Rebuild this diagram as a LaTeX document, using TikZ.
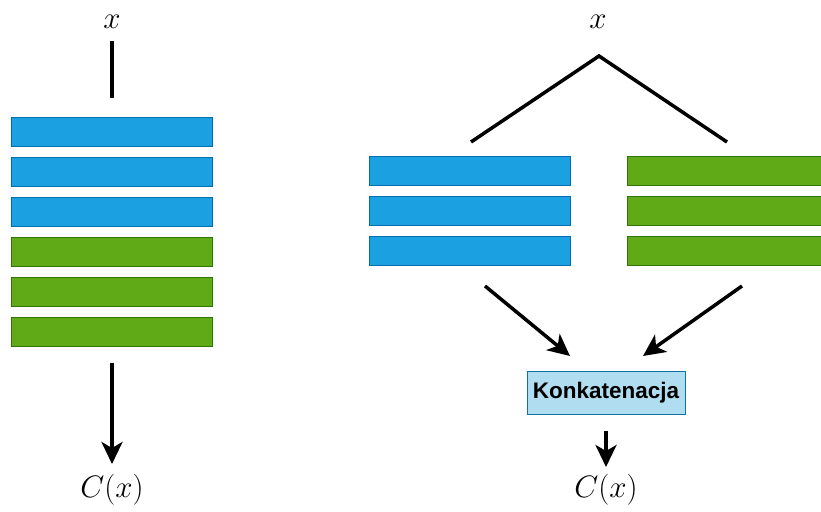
\RequirePackage{fix-cm}
\documentclass[tikz,border=0pt]{standalone}
\usepackage{amsmath}
\usepackage{fontspec}
\setsansfont{Liberation Sans}
\usepackage{xcolor}
\usepackage{tikz}
\usetikzlibrary{arrows.meta}

\definecolor{barblue}{HTML}{1BA1E2}
\definecolor{barblueline}{HTML}{006EAF}
\definecolor{bargreen}{HTML}{60A917}
\definecolor{bargreenline}{HTML}{2D7600}
\definecolor{concfill}{HTML}{B1DDF0}
\definecolor{concline}{HTML}{10739E}

\tikzset{
  bar/.style={minimum width=201pt, minimum height=29pt, inner sep=0pt, line width=1pt},
  bluebar/.style={bar, fill=barblue, draw=barblueline},
  greenbar/.style={bar, fill=bargreen, draw=bargreenline},
  lbl/.style={font=\fontsize{31}{37}\selectfont},
  concbox/.style={fill=concfill, draw=concline, line width=1pt, minimum width=158pt,
    minimum height=43pt, inner sep=0pt, font=\sffamily\bfseries\fontsize{22.5}{27}\selectfont},
  link/.style={line width=3.5pt},
  arr/.style={link, -{Stealth[length=22pt, width=21pt, inset=6pt]}}
}

\begin{document}
\begin{tikzpicture}[x=1pt, y=-1pt]
\useasboundingbox (0,0) rectangle (821,511);

% left: one stack
\node[lbl] (xl) at (112,22) {$x$};
\node[bluebar] (l1) at (111.5,132) {};
\node[bluebar] (l2) at (111.5,172) {};
\node[bluebar] (l3) at (111.5,212) {};
\node[greenbar] (l4) at (111.5,252) {};
\node[greenbar] (l5) at (111.5,292) {};
\node[greenbar] (l6) at (111.5,332) {};
\node[lbl] (cl) at (112,490) {$C(x)$};
\draw[link, shorten <=9pt, shorten >=19pt] (xl) -- (xl |- l1.north);
\draw[arr, shorten <=15.5pt, shorten >=7pt] (xl |- l6.south) -- (cl);

% right: two stacks
\node[lbl] (xr) at (598,22) {$x$};
\coordinate (top) at (599,56);
\coordinate (topl) at (471,142);
\coordinate (topr) at (727,142);
\draw[link, line join=miter] (topl) -- (top) -- (topr);

\node[bluebar] (r1) at (469.5,171) {};
\node[bluebar] (r2) at (469.5,211) {};
\node[bluebar] (r3) at (469.5,251) {};
\node[greenbar] (g1) at (727.5,171) {};
\node[greenbar] (g2) at (727.5,211) {};
\node[greenbar] (g3) at (727.5,251) {};

\node[concbox] (conc) at (606,392.5) {Konkatenacja};
\node[lbl] (cr) at (606,490) {$C(x)$};

\coordinate (fromb) at (485,286);
\coordinate (fromg) at (742,286);
\coordinate (tob) at (570,356);
\coordinate (tog) at (643,356);
\draw[arr] (fromb) -- (tob);
\draw[arr] (fromg) -- (tog);
\draw[arr, shorten <=16pt, shorten >=4pt] (conc) -- (cr);
\end{tikzpicture}
\end{document}
